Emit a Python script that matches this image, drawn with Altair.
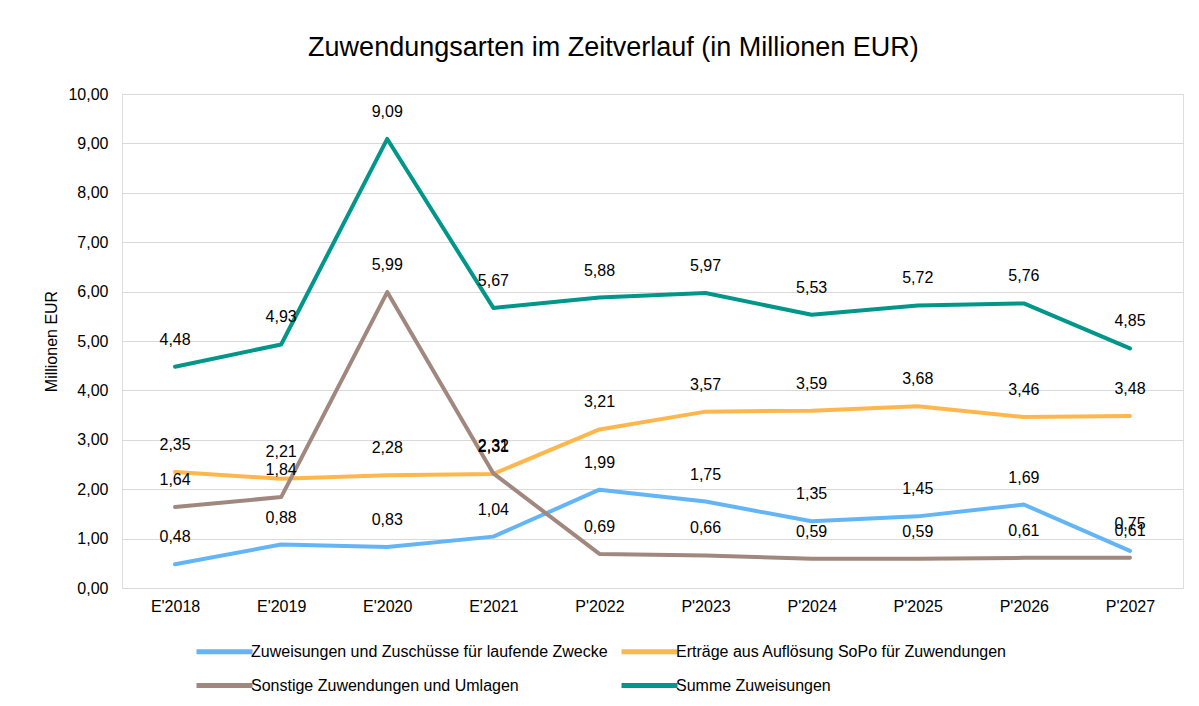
import altair as alt
import pandas as pd

years = ["E'2018", "E'2019", "E'2020", "E'2021", "P'2022", "P'2023", "P'2024", "P'2025", "P'2026", "P'2027"]
series_names = [
    "Zuweisungen und Zuschüsse für laufende Zwecke",
    "Erträge aus Auflösung SoPo für Zuwendungen",
    "Sonstige Zuwendungen und Umlagen",
    "Summe Zuweisungen",
]
zuweisungen = [0.48, 0.88, 0.83, 1.04, 1.99, 1.75, 1.35, 1.45, 1.69, 0.75]
ertraege = [2.35, 2.21, 2.28, 2.31, 3.21, 3.57, 3.59, 3.68, 3.46, 3.48]
sonstige = [1.64, 1.84, 5.99, 2.32, 0.69, 0.66, 0.59, 0.59, 0.61, 0.61]
summe = [4.48, 4.93, 9.09, 5.67, 5.88, 5.97, 5.53, 5.72, 5.76, 4.85]
colors = ["#64B5F6", "#FFB74D", "#A1887F", "#00968A"]

rows = []
for name, vals in zip(series_names, [zuweisungen, ertraege, sonstige, summe]):
    for y, v in zip(years, vals):
        rows.append({"Jahr": y, "Reihe": name, "Wert": v, "Label": f"{v:.2f}".replace(".", ",")})
df = pd.DataFrame(rows)

FONT = "Liberation Sans"

base = alt.Chart(df).encode(
    x=alt.X("Jahr:N", sort=years, title=None,
            axis=alt.Axis(labelAngle=0, labelFontSize=16, labelColor="#000000", labelFont=FONT,
                          domainColor="#D9D9D9", ticks=False, labelPadding=10, grid=False)),
    y=alt.Y("Wert:Q", title="Millionen EUR",
            scale=alt.Scale(domain=[0, 10]),
            axis=alt.Axis(values=list(range(0, 11)), labelExpr="replace(format(datum.value, '.2f'), '.', ',')",
                          labelFontSize=16, labelColor="#000000", labelFont=FONT, domain=False, ticks=False,
                          gridColor="#D9D9D9", titleFontSize=16, titleFont=FONT, titleFontWeight="normal",
                          titleColor="#000000", titlePadding=8, labelPadding=14)),
)

lines = base.mark_line(strokeWidth=4, strokeJoin="round", strokeCap="round").encode(
    color=alt.Color("Reihe:N", sort=series_names,
                    scale=alt.Scale(domain=series_names, range=colors),
                    legend=alt.Legend(title=None, orient="none", legendX=72, legendY=541,
                                      direction="horizontal", columns=2, symbolType="M-1,0L3,0",
                                      symbolStrokeWidth=5, symbolSize=784, labelFontSize=16,
                                      labelFont=FONT, labelColor="#000000", labelLimit=600,
                                      rowPadding=7, columnPadding=3, labelOffset=24)),
)

texts = base.mark_text(dy=-27, fontSize=16, font=FONT, color="#000000").encode(text="Label:N")

chart = (lines + texts).properties(
    width=1061, height=494,
    title=alt.TitleParams("Zuwendungsarten im Zeitverlauf (in Millionen EUR)", fontSize=27,
                          font=FONT, fontWeight="normal", color="#000000", offset=24, frame="bounds"),
).configure_view(stroke=None).configure(padding={"left": 35, "right": 5, "top": 26, "bottom": 0})

chart.save("out.html", embed_options={"renderer": "svg", "actions": False})
